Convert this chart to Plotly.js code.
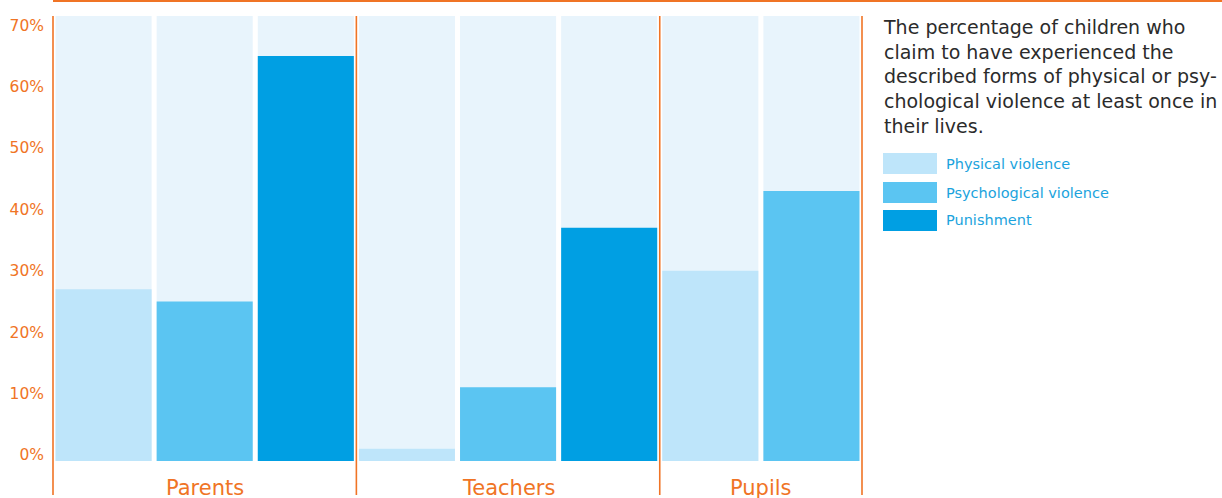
<!DOCTYPE html>
<html><head><meta charset="utf-8">
<script src="https://cdn.plot.ly/plotly-3.0.1.min.js"></script>
<style>html,body{margin:0;padding:0;background:#fff;}#chart{width:1222px;height:498px;}</style>
</head><body><div id="chart"></div>
<script>
// ---- data ----
const groups = ["Parents", "Teachers", "Pupils"];
const seriesNames = ["Physical violence", "Psychological violence", "Punishment"];
const physical = [27, 1, 30];
const psychological = [25, 11, 43];
const punishment = [65, 37, null];
const yTicks = [0, 10, 20, 30, 40, 50, 60, 70];
const description = "The percentage of children who<br>claim to have experienced the<br>described forms of physical or psy-<br>chological violence at least once in<br>their lives.";

// ---- style ----
const colors = ["#BEE5FA", "#5BC5F2", "#009FE3"];
const bgColor = "#E8F4FC";
const orange = "#F07425";
const W = 1222, H = 498;
const M = {l: 53, r: 360, t: 16, b: 37};
const plotW = W - M.l - M.r, plotH = H - M.t - M.b;
const yMin = -1, yMax = 71.5;
const FONT = "DejaVu Sans, Arial, sans-serif";
const px2x = p => (p - M.l) / plotW;
const py2y = p => (H - M.b - p) / plotH;

const seriesVals = [physical, psychological, punishment];
const cats = [];
const groupOfCat = [];
groups.forEach((g, gi) => {
  seriesNames.forEach((s, si) => {
    if (seriesVals[si][gi] !== null && seriesVals[si][gi] !== undefined) {
      cats.push(g + " – " + s);
      groupOfCat.push(gi);
    }
  });
});

const traces = [];
// background panels
traces.push({
  type: "bar", x: cats, y: cats.map(() => yMax - yMin), base: yMin,
  marker: {color: bgColor, line: {width: 0}}, width: 0.95,
  hoverinfo: "skip", showlegend: false
});
seriesNames.forEach((s, si) => {
  const xs = [], ys = [];
  groups.forEach((g, gi) => {
    const v = seriesVals[si][gi];
    if (v !== null && v !== undefined) { xs.push(g + " – " + s); ys.push(v - yMin); }
  });
  traces.push({
    type: "bar", name: s, x: xs, y: ys, base: yMin,
    marker: {color: colors[si], line: {width: 0}}, width: 0.95,
    showlegend: false, hoverinfo: "skip"
  });
});

// separators between groups (paper-referenced so edge lines are not clipped)
const shapes = [];
const bounds = [0];
let idx = 0;
groups.forEach((g, gi) => {
  idx += groupOfCat.filter(v => v === gi).length;
  bounds.push(idx);
});
bounds.forEach(b => {
  const xp = b / cats.length;
  shapes.push({type: "line", xref: "paper", yref: "paper", x0: xp, x1: xp,
    y0: py2y(495), y1: 1, line: {color: orange, width: 1.6}});
});
// top orange rule
shapes.push({type: "line", xref: "paper", yref: "paper", x0: 0, x1: px2x(W),
  y0: py2y(1), y1: py2y(1), line: {color: orange, width: 2}});

const annotations = [];
// group labels
let start = 0;
groups.forEach((g, gi) => {
  const n = groupOfCat.filter(v => v === gi).length;
  annotations.push({xref: "x", yref: "paper", x: start + (n - 1) / 2, y: py2y(474),
    yanchor: "top", xanchor: "center", text: g, showarrow: false,
    font: {family: FONT, size: 21, color: orange}});
  start += n;
});
// description
annotations.push({xref: "paper", yref: "paper", x: px2x(881), y: py2y(14),
  xanchor: "left", yanchor: "top", align: "left", text: description, showarrow: false,
  font: {family: FONT, size: 19, color: "#2B2B2B"}});
// custom legend
const swTop = [153, 182, 210];
seriesNames.forEach((s, si) => {
  shapes.push({type: "rect", xref: "paper", yref: "paper",
    x0: px2x(883), x1: px2x(937), y0: py2y(swTop[si] + 21), y1: py2y(swTop[si]),
    fillcolor: colors[si], line: {width: 0}});
  annotations.push({xref: "paper", yref: "paper", x: px2x(944), y: py2y(swTop[si] + 10.5),
    xanchor: "left", yanchor: "middle", text: s, showarrow: false,
    font: {family: FONT, size: 14.5, color: "#1BA3DD"}});
});

const layout = {
  width: W, height: H, margin: M,
  paper_bgcolor: "#fff", plot_bgcolor: "#fff",
  barmode: "overlay", showlegend: false,
  xaxis: {type: "category", categoryorder: "array", categoryarray: cats,
    range: [-0.5, cats.length - 0.5], showticklabels: false, showgrid: false,
    zeroline: false, showline: false, ticks: "", fixedrange: true},
  yaxis: {range: [yMin, yMax], tickvals: yTicks, ticktext: yTicks.map(v => v + "%"),
    showgrid: false, zeroline: false, showline: false, ticks: "",
    ticklabelstandoff: 8,
    tickfont: {family: FONT, size: 15.5, color: orange}, fixedrange: true},
  shapes: shapes, annotations: annotations
};
Plotly.newPlot("chart", traces, layout, {displayModeBar: false, staticPlot: true});
</script></body></html>
